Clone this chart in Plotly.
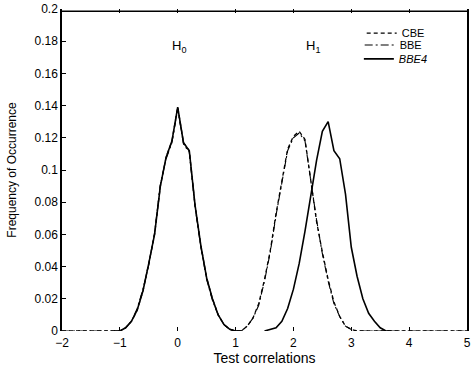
import plotly.graph_objects as go

# ---- data ----
# CBE (dashed) spans the whole x range
cbe_x = [-2.0, -1.0, -0.9, -0.8, -0.7, -0.6, -0.5, -0.4, -0.3, -0.2, -0.1, 0.0, 0.1, 0.2, 0.3, 0.4, 0.5, 0.6, 0.7, 0.8, 0.9, 1.0,
         1.1, 1.2, 1.3, 1.4, 1.5, 1.6, 1.7, 1.8, 1.9, 2.0, 2.1, 2.2, 2.3, 2.4, 2.5, 2.6, 2.7, 2.8, 2.9, 3.0, 3.1, 5.0]
cbe_y = [0.0, 0.0, 0.002, 0.006, 0.013, 0.025, 0.042, 0.060, 0.090, 0.108, 0.118, 0.139, 0.117, 0.112, 0.078, 0.053, 0.033, 0.020, 0.010, 0.004, 0.001, 0.0,
         0.0, 0.003, 0.008, 0.017, 0.032, 0.050, 0.073, 0.094, 0.113, 0.121, 0.124, 0.119, 0.092, 0.068, 0.049, 0.032, 0.018, 0.009, 0.003, 0.001, 0.0, 0.0]

# BBE (dash-dot) nearly identical to CBE
bbe_x = [-2.0, -1.0, -0.9, -0.8, -0.7, -0.6, -0.5, -0.4, -0.3, -0.2, -0.1, 0.0, 0.1, 0.2, 0.3, 0.4, 0.5, 0.6, 0.7, 0.8, 0.9, 1.0,
         1.1, 1.2, 1.3, 1.4, 1.5, 1.6, 1.7, 1.8, 1.9, 2.0, 2.1, 2.2, 2.3, 2.4, 2.5, 2.6, 2.7, 2.8, 2.9, 3.0, 3.1, 5.0]
bbe_y = [0.0, 0.0, 0.002, 0.006, 0.014, 0.026, 0.041, 0.061, 0.091, 0.107, 0.117, 0.138, 0.116, 0.111, 0.077, 0.052, 0.032, 0.019, 0.010, 0.004, 0.001, 0.0,
         0.0, 0.003, 0.008, 0.016, 0.031, 0.049, 0.072, 0.093, 0.112, 0.120, 0.123, 0.118, 0.093, 0.069, 0.048, 0.031, 0.017, 0.009, 0.003, 0.001, 0.0, 0.0]

# BBE4 (solid); None separates the two humps
bbe4_x = [-1.1, -1.0, -0.9, -0.8, -0.7, -0.6, -0.5, -0.4, -0.3, -0.2, -0.1, 0.0, 0.1, 0.2, 0.3, 0.4, 0.5, 0.6, 0.7, 0.8, 0.9, 1.0, 1.1,
          None, 1.5, 1.6, 1.7, 1.8, 1.9, 2.0, 2.1, 2.2, 2.3, 2.4, 2.5, 2.6, 2.7, 2.8, 2.9, 3.0, 3.1, 3.2, 3.3, 3.4, 3.5, 3.6, 3.7]
bbe4_y = [0.0, 0.0, 0.002, 0.006, 0.013, 0.025, 0.042, 0.060, 0.090, 0.108, 0.118, 0.139, 0.117, 0.112, 0.078, 0.053, 0.033, 0.020, 0.010, 0.004, 0.001, 0.0, 0.0,
          None, 0.0, 0.001, 0.002, 0.006, 0.014, 0.026, 0.042, 0.062, 0.085, 0.106, 0.124, 0.130, 0.112, 0.107, 0.085, 0.052, 0.034, 0.020, 0.011, 0.006, 0.002, 0.0, 0.0]

x_ticks = [-2, -1, 0, 1, 2, 3, 4, 5]
y_ticks = [0, 0.02, 0.04, 0.06, 0.08, 0.1, 0.12, 0.14, 0.16, 0.18, 0.2]
y_ticktext = ["0", "0.02", "0.04", "0.06", "0.08", "0.1", "0.12", "0.14", "0.16", "0.18", "0.2"]

FONT = "Liberation Sans, Arial, sans-serif"

fig = go.Figure()
fig.add_trace(go.Scatter(x=cbe_x, y=cbe_y, mode="lines", name="CBE", legend="legend",
                         line=dict(color="black", width=1.3, dash="4px,3px")))
fig.add_trace(go.Scatter(x=bbe_x, y=bbe_y, mode="lines", name="BBE", legend="legend2",
                         line=dict(color="black", width=1.1, dash="8px,3px,2px,3px")))
fig.add_trace(go.Scatter(x=bbe4_x, y=bbe4_y, mode="lines", name="<i>BBE4</i>", legend="legend3",
                         connectgaps=False, line=dict(color="black", width=1.6)))

fig.add_annotation(x=0.02, y=0.177, text="H<sub>0</sub>", showarrow=False,
                   font=dict(family=FONT, size=13, color="black"))
fig.add_annotation(x=2.33, y=0.177, text="H<sub>1</sub>", showarrow=False,
                   font=dict(family=FONT, size=13, color="black"))

# top border of the box (the bottom edge is the dashed zero line in the original)
fig.add_shape(type="line", xref="x domain", yref="y domain", x0=0, x1=1, y0=0.993, y1=0.993,
              line=dict(color="black", width=1.5), layer="above")

leg_common = dict(xanchor="left", yanchor="middle", bgcolor="rgba(0,0,0,0)", borderwidth=0,
                  font=dict(family=FONT, size=11, color="black"), itemwidth=30)

fig.update_layout(
    width=471, height=374,
    margin=dict(l=62, r=0, t=9, b=43),
    paper_bgcolor="white", plot_bgcolor="white",
    font=dict(family=FONT, size=12, color="black"),
    showlegend=True,
    legend=dict(x=0.74, y=0.925, **leg_common),
    legend2=dict(x=0.735, y=0.888, **leg_common),
    legend3=dict(x=0.733, y=0.845, **leg_common),
    xaxis=dict(range=[-2, 5], tickvals=x_ticks, ticks="inside", ticklen=4,
               tickcolor="black", showline=False, mirror="ticks", showgrid=False,
               zeroline=False, tickfont=dict(size=12, family=FONT), automargin=True,
               ticklabeloverflow="allow", ticklabelstandoff=3,
               title=dict(text="Test correlations", font=dict(size=14, family=FONT), standoff=3)),
    yaxis=dict(range=[0, 0.2], tickvals=y_ticks, ticktext=y_ticktext, ticks="inside",
               ticklen=4, tickcolor="black", showline=True, linecolor="black", linewidth=1.5,
               mirror=True, showgrid=False, zeroline=False, automargin=False,
               tickfont=dict(size=12, family=FONT),
               title=dict(text="Frequency of Occurrence", font=dict(size=12, family=FONT))),
)

fig.write_html("out.html", config={"displayModeBar": False},
               post_script="document.body.style.margin='0';")
